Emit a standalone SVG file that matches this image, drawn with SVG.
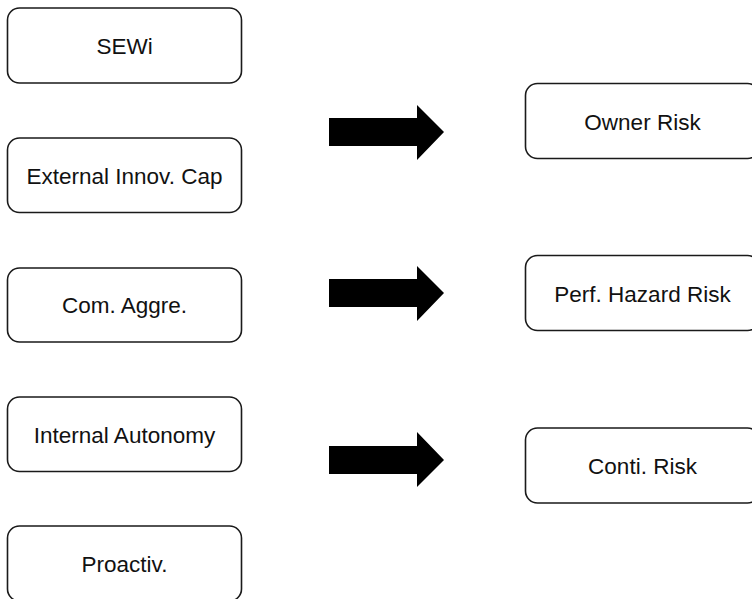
<svg xmlns="http://www.w3.org/2000/svg" width="752" height="599" viewBox="0 0 752 599">
<style>
.box{fill:#fff;stroke:#1a1a1a;stroke-width:1.6}
.lbl{font-family:"Liberation Sans",Arial,sans-serif;font-size:22.5px;fill:#111;text-anchor:middle}
.arr{fill:#000}
</style>
<rect width="752" height="599" fill="#fff"/>
<g id="sewi"><rect class="box" x="7.5" y="8" width="234" height="75" rx="12"/><text class="lbl" x="124.5" y="54">SEWi</text></g>
<g id="external"><rect class="box" x="7.5" y="138" width="234" height="74.5" rx="12"/><text class="lbl" x="124.5" y="183.5">External Innov. Cap</text></g>
<g id="comaggre"><rect class="box" x="7.5" y="268" width="234" height="74" rx="12"/><text class="lbl" x="124.5" y="313">Com. Aggre.</text></g>
<g id="internal"><rect class="box" x="7.5" y="397" width="234" height="74.5" rx="12"/><text class="lbl" x="124.5" y="442.5">Internal Autonomy</text></g>
<g id="proactiv"><rect class="box" x="7.5" y="526" width="234" height="75" rx="12"/><text class="lbl" x="124.5" y="572">Proactiv.</text></g>
<g id="owner"><rect class="box" x="525.5" y="83.5" width="234" height="75" rx="12"/><text class="lbl" x="642.5" y="129.5">Owner Risk</text></g>
<g id="perf"><rect class="box" x="525.5" y="255.5" width="234" height="75" rx="12"/><text class="lbl" x="642.5" y="301.5">Perf. Hazard Risk</text></g>
<g id="conti"><rect class="box" x="525.5" y="428" width="234" height="75" rx="12"/><text class="lbl" x="642.5" y="474">Conti. Risk</text></g>
<g id="connectors">
<polygon class="arr" points="329,118 417,118 417,105 444,132 417,160 417,146 329,146"/>
<polygon class="arr" points="329,279 417,279 417,266 444,293 417,321 417,307 329,307"/>
<polygon class="arr" points="329,446 417,446 417,432 444,460 417,487 417,474 329,474"/>
</g>
</svg>
